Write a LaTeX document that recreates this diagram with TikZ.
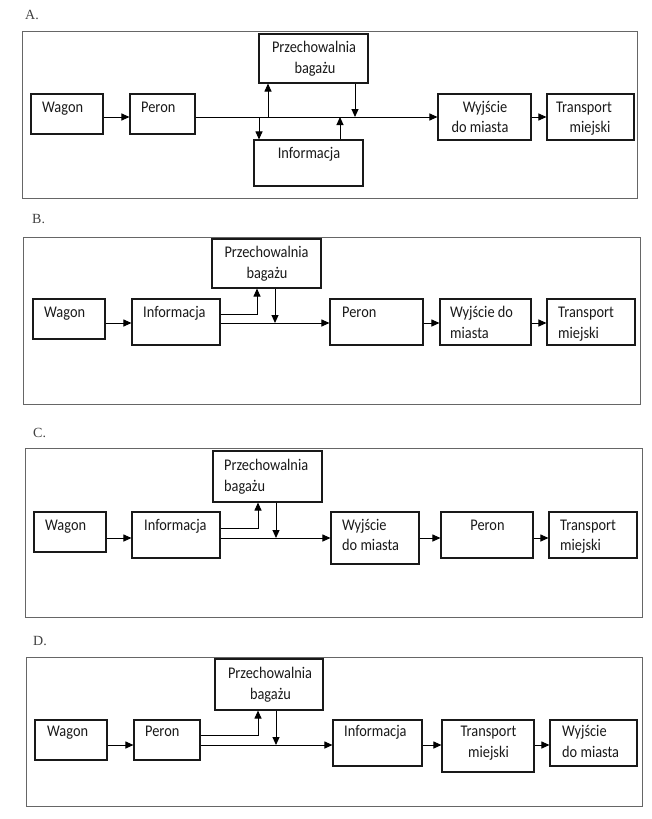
\documentclass[tikz,border=0pt]{standalone}
\usepackage{fontspec}
\setmainfont{Carlito}[FakeStretch=0.88]
\newfontfamily\labfont{Liberation Serif}
\usetikzlibrary{arrows.meta,fit}
\begin{document}
\begin{tikzpicture}[x=1pt,y=-1pt,
  box/.style={draw=black!90, line width=1.1pt, inner sep=0pt},
  panel/.style={draw=black!60, line width=1pt, inner sep=0pt},
  txt/.style={inner sep=0pt, font=\fontsize{16.3}{19}\selectfont, text=black!90},
  lab/.style={inner sep=0pt, font=\labfont\fontsize{14}{16}\selectfont, text=black!75},
  arr/.style={line width=1pt, -{Triangle[length=8pt,width=7pt]}},
  ln/.style={line width=1pt}]
\useasboundingbox (0,0) rectangle (651,819);

% ================= A =================
\node[lab, anchor=mid west] (lA) at (25,17) {A.};
\node[panel, fit={(22,31)(637,198)}] (fA) {};
\node[box, fit={(31,94)(103,134)}] (aW) {};
\node[box, fit={(130,94)(195,134)}] (aP) {};
\node[box, fit={(259,34)(368,83)}] (aS) {};
\node[box, fit={(254,140)(363,186)}] (aI) {};
\node[box, fit={(438,94)(531,140)}] (aE) {};
\node[box, fit={(547,94)(634,140)}] (aT) {};
\node[txt, anchor=mid west] (aWt) at (42,110) {Wagon};
\node[txt, anchor=mid west] (aPt) at (141,110) {Peron};
\node[txt, anchor=mid] (aSt1) at (314,50) {Przechowalnia};
\node[txt, anchor=mid] (aSt2) at (315,71) {bagażu};
\node[txt, anchor=mid] (aIt) at (309,156) {Informacja};
\node[txt, anchor=mid] (aEt1) at (485,110) {Wyjście};
\node[txt, anchor=mid] (aEt2) at (480,130) {do miasta};
\node[txt, anchor=mid] (aTt1) at (584,110) {Transport};
\node[txt, anchor=mid] (aTt2) at (590,130) {miejski};
\coordinate (yA) at (0,117);
\coordinate (aj1) at (268,117);
\coordinate (aj2) at (355,117);
\coordinate (aj3) at (259,117);
\coordinate (aj4) at (340,117);
\draw[arr] (aW.east |- yA) -- (aP.west |- yA);
\draw[arr] (aP.east |- yA) -- (aE.west |- yA);
\draw[arr] (aj1) -- (aj1 |- aS.south);
\draw[arr] (aj2 |- aS.south) -- (aj2);
\draw[arr] (aj3) -- (aj3 |- aI.north);
\draw[arr] (aj4 |- aI.north) -- (aj4);
\draw[arr] (aE.east |- yA) -- (aT.west |- yA);

% ================= B =================
\node[lab, anchor=mid west] (lB) at (32,221) {B.};
\node[panel, fit={(23,237)(640,404)}] (fB) {};
\node[box, fit={(33,299)(105,339)}] (bW) {};
\node[box, fit={(132,299)(220,345)}] (bI) {};
\node[box, fit={(212,239)(321,288)}] (bS) {};
\node[box, fit={(330,299)(423,345)}] (bP) {};
\node[box, fit={(440,299)(531,345)}] (bE) {};
\node[box, fit={(547,299)(635,345)}] (bT) {};
\node[txt, anchor=mid west] (bWt) at (44,315) {Wagon};
\node[txt, anchor=mid west] (bIt) at (143,315) {Informacja};
\node[txt, anchor=mid] (bSt1) at (266.5,255) {Przechowalnia};
\node[txt, anchor=mid] (bSt2) at (267,276) {bagażu};
\node[txt, anchor=mid west] (bPt) at (342,315) {Peron};
\node[txt, anchor=mid west] (bEt1) at (450,315) {Wyjście do};
\node[txt, anchor=mid west] (bEt2) at (450,336) {miasta};
\node[txt, anchor=mid west] (bTt1) at (558,315) {Transport};
\node[txt, anchor=mid west] (bTt2) at (558,336) {miejski};
\coordinate (yB) at (0,323);
\coordinate (bbr) at (0,314);
\coordinate (bj1) at (257,314);
\coordinate (bj2) at (275,323);
\draw[arr] (bW.east |- yB) -- (bI.west |- yB);
\draw[arr] (bI.east |- bbr) -- (bj1) -- (bj1 |- bS.south);
\draw[arr] (bI.east |- yB) -- (bP.west |- yB);
\draw[arr] (bj2 |- bS.south) -- (bj2);
\draw[arr] (bP.east |- yB) -- (bE.west |- yB);
\draw[arr] (bE.east |- yB) -- (bT.west |- yB);

% ================= C =================
\node[lab, anchor=mid west] (lC) at (33,435) {C.};
\node[panel, fit={(25,448)(642,617)}] (fC) {};
\node[box, fit={(34,512)(106,552)}] (cW) {};
\node[box, fit={(132,512)(220,558)}] (cI) {};
\node[box, fit={(213,451)(322,502)}] (cS) {};
\node[box, fit={(331,512)(419,564)}] (cE) {};
\node[box, fit={(441,512)(533,558)}] (cP) {};
\node[box, fit={(549,512)(637,558)}] (cT) {};
\node[txt, anchor=mid west] (cWt) at (45,528) {Wagon};
\node[txt, anchor=mid west] (cIt) at (144,528) {Informacja};
\node[txt, anchor=mid west] (cSt1) at (224,468) {Przechowalnia};
\node[txt, anchor=mid west] (cSt2) at (224,489) {bagażu};
\node[txt, anchor=mid west] (cEt1) at (342,528) {Wyjście};
\node[txt, anchor=mid west] (cEt2) at (342,548) {do miasta};
\node[txt, anchor=mid] (cPt) at (487.5,528) {Peron};
\node[txt, anchor=mid west] (cTt1) at (560,528) {Transport};
\node[txt, anchor=mid west] (cTt2) at (560,548) {miejski};
\coordinate (yC) at (0,538);
\coordinate (cbr) at (0,528);
\coordinate (cj1) at (258,528);
\coordinate (cj2) at (276,538);
\draw[arr] (cW.east |- yC) -- (cI.west |- yC);
\draw[arr] (cI.east |- cbr) -- (cj1) -- (cj1 |- cS.south);
\draw[arr] (cI.east |- yC) -- (cE.west |- yC);
\draw[arr] (cj2 |- cS.south) -- (cj2);
\draw[arr] (cE.east |- yC) -- (cP.west |- yC);
\draw[arr] (cP.east |- yC) -- (cT.west |- yC);

% ================= D =================
\node[lab, anchor=mid west] (lD) at (33,643) {D.};
\node[panel, fit={(26,657)(642,806)}] (fD) {};
\node[box, fit={(35,720)(107,760)}] (dW) {};
\node[box, fit={(134,720)(200,760)}] (dP) {};
\node[box, fit={(215,659)(323,710)}] (dS) {};
\node[box, fit={(333,720)(422,766)}] (dI) {};
\node[box, fit={(442,720)(534,772)}] (dT) {};
\node[box, fit={(550,720)(637,766)}] (dE) {};
\node[txt, anchor=mid west] (dWt) at (47,734) {Wagon};
\node[txt, anchor=mid west] (dPt) at (145,734) {Peron};
\node[txt, anchor=mid] (dSt1) at (270,676) {Przechowalnia};
\node[txt, anchor=mid] (dSt2) at (270.5,697) {bagażu};
\node[txt, anchor=mid west] (dIt) at (344,734) {Informacja};
\node[txt, anchor=mid] (dTt1) at (488.5,734) {Transport};
\node[txt, anchor=mid] (dTt2) at (488.5,755) {miejski};
\node[txt, anchor=mid west] (dEt1) at (562,734) {Wyjście};
\node[txt, anchor=mid west] (dEt2) at (562,755) {do miasta};
\coordinate (yD) at (0,745);
\coordinate (dbr) at (0,735);
\coordinate (dj1) at (258,735);
\coordinate (dj2) at (276,745);
\draw[arr] (dW.east |- yD) -- (dP.west |- yD);
\draw[arr] (dP.east |- dbr) -- (dj1) -- (dj1 |- dS.south);
\draw[arr] (dP.east |- yD) -- (dI.west |- yD);
\draw[arr] (dj2 |- dS.south) -- (dj2);
\draw[arr] (dI.east |- yD) -- (dT.west |- yD);
\draw[arr] (dT.east |- yD) -- (dE.west |- yD);
\end{tikzpicture}
\end{document}
